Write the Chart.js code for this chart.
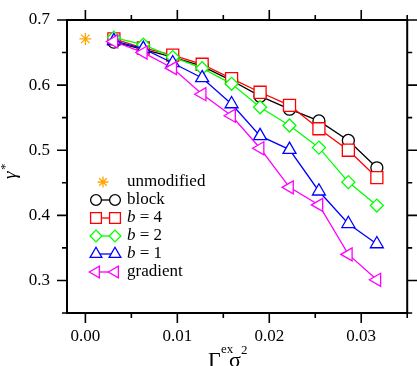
<!DOCTYPE html>
<html>
<head>
<meta charset="utf-8">
<script src="https://cdn.jsdelivr.net/npm/chart.js@4.4.1/dist/chart.umd.min.js"></script>
<style>
  html, body { margin: 0; padding: 0; background: #fff; }
  canvas { display: block; }
</style>
</head>
<body>
<canvas id="chart" width="417" height="366"></canvas>
<script>
// Γ^ex σ^2 values (same for every modified run)
const X_VALUES = [0.0031, 0.0063, 0.0095, 0.0127, 0.0159, 0.0190, 0.0222, 0.0254, 0.0286, 0.0317];

const UNMODIFIED_X = [0.0];
const UNMODIFIED_Y = [0.671];
const BLOCK = [0.666, 0.655, 0.643, 0.629, 0.607, 0.583, 0.563, 0.545, 0.515, 0.473];
const B4 = [0.671, 0.657, 0.646, 0.632, 0.610, 0.589, 0.569, 0.533, 0.500, 0.458];
const B2 = [0.673, 0.662, 0.643, 0.626, 0.602, 0.566, 0.538, 0.504, 0.451, 0.415];
const B1 = [0.668, 0.656, 0.634, 0.611, 0.571, 0.522, 0.501, 0.437, 0.387, 0.356];
const GRADIENT = [0.667, 0.650, 0.626, 0.586, 0.553, 0.503, 0.443, 0.416, 0.340, 0.301];

const X_TICKS = [0.0, 0.01, 0.02, 0.03];
const X_MINOR = [0.005, 0.015, 0.025, 0.035];
const Y_TICKS = [0.3, 0.4, 0.5, 0.6, 0.7];
const Y_MINOR = [0.25, 0.35, 0.45, 0.55, 0.65];

const SERIF = '"Liberation Serif", "Times New Roman", serif';

function pts(xs, ys) {
  return ys.map((y, i) => ({ x: xs[i], y: y }));
}

const SERIES = [
  { label: "unmodified", data: pts(UNMODIFIED_X, UNMODIFIED_Y), color: "#ffa500", style: "star", r: 6, rot: 0, line: false },
  { label: "block", data: pts(X_VALUES, BLOCK), color: "#000000", style: "circle", r: 6, rot: 0, line: true },
  { label: "b = 4", data: pts(X_VALUES, B4), color: "#ff0000", style: "rect", r: 8.5, rot: 0, line: true },
  { label: "b = 2", data: pts(X_VALUES, B2), color: "#00ff00", style: "rectRot", r: 6.5, rot: 0, line: true },
  { label: "b = 1", data: pts(X_VALUES, B1), color: "#0000ff", style: "triangle", r: 7.5, rot: 0, line: true },
  { label: "gradient", data: pts(X_VALUES, GRADIENT), color: "#ff00ff", style: "triangle", r: 7.5, rot: -90, line: true },
];

// frame, minor/mirrored ticks, axis titles and the legend
const decor = {
  id: "decor",
  afterDraw(chart) {
    const ctx = chart.ctx;
    const a = chart.chartArea;
    const xs = chart.scales.x, ys = chart.scales.y;
    ctx.save();
    ctx.strokeStyle = "#000";
    ctx.lineWidth = 1.6;
    ctx.beginPath();
    X_TICKS.forEach((v) => {
      const px = xs.getPixelForValue(v);
      ctx.moveTo(px, a.bottom); ctx.lineTo(px, a.bottom + 10);
      ctx.moveTo(px, a.top); ctx.lineTo(px, a.top - 10);
    });
    X_MINOR.forEach((v) => {
      const px = xs.getPixelForValue(v);
      ctx.moveTo(px, a.bottom); ctx.lineTo(px, a.bottom + 5);
      ctx.moveTo(px, a.top); ctx.lineTo(px, a.top - 5);
    });
    Y_TICKS.forEach((v) => {
      const py = ys.getPixelForValue(v);
      ctx.moveTo(a.left, py); ctx.lineTo(a.left - 10, py);
      ctx.moveTo(a.right, py); ctx.lineTo(a.right + 10, py);
    });
    Y_MINOR.forEach((v) => {
      const py = ys.getPixelForValue(v);
      ctx.moveTo(a.left, py); ctx.lineTo(a.left - 5, py);
      ctx.moveTo(a.right, py); ctx.lineTo(a.right + 5, py);
    });
    ctx.stroke();
    ctx.lineWidth = 2;
    ctx.strokeRect(a.left, a.top, a.right - a.left, a.bottom - a.top);

    // x title: Γ^ex σ^2
    ctx.fillStyle = "#000";
    ctx.textBaseline = "alphabetic";
    ctx.textAlign = "left";
    ctx.font = "22px " + SERIF;
    ctx.fillText("Γ", 208, 367);
    ctx.font = "13px " + SERIF;
    ctx.fillText("ex", 221, 353);
    ctx.font = "22px " + SERIF;
    ctx.fillText("σ", 229, 367);
    ctx.font = "13px " + SERIF;
    ctx.fillText("2", 241, 354);

    // y title: γ*
    ctx.save();
    ctx.translate(16, 175);
    ctx.rotate(-Math.PI / 2);
    ctx.font = "italic 19px " + SERIF;
    ctx.fillText("γ", -4, 0);
    ctx.font = "13px " + SERIF;
    ctx.fillText("*", 5, -7);
    ctx.restore();

    // legend
    const rowY = [182, 200, 218, 236, 254, 272];
    SERIES.forEach((s, i) => {
      const y = rowY[i];
      const opts = { pointStyle: s.style, radius: s.r * 0.9, rotation: s.rot, borderWidth: 1.3 };
      ctx.strokeStyle = s.color;
      ctx.fillStyle = "#fff";
      ctx.lineWidth = 1.3;
      if (s.line) {
        ctx.beginPath();
        ctx.moveTo(96, y); ctx.lineTo(115, y);
        ctx.stroke();
        Chart.helpers.drawPoint(ctx, opts, 96, y);
        Chart.helpers.drawPoint(ctx, opts, 115, y);
      } else {
        Chart.helpers.drawPoint(ctx, opts, 103, y);
      }
      ctx.fillStyle = "#000";
      ctx.textBaseline = "middle";
      let tx = 127;
      if (s.label.startsWith("b = ")) {
        ctx.font = "italic 17px " + SERIF;
        ctx.fillText("b", tx, y);
        tx += ctx.measureText("b").width;
        ctx.font = "17px " + SERIF;
        ctx.fillText(" = " + s.label.slice(4), tx, y);
      } else {
        ctx.font = "17px " + SERIF;
        ctx.fillText(s.label, tx, y);
      }
    });
    ctx.restore();
  },
};

new Chart(document.getElementById("chart"), {
  type: "scatter",
  data: {
    datasets: SERIES.map((s, i) => ({
      label: s.label,
      data: s.data,
      showLine: s.line,
      borderColor: s.color,
      backgroundColor: "#ffffff",
      borderWidth: 1.3,
      pointStyle: s.style,
      pointRadius: s.r,
      pointRotation: s.rot,
      pointBorderWidth: 1.3,
      pointBorderColor: s.color,
      pointBackgroundColor: "#ffffff",
      order: SERIES.length - i,
    })),
  },
  options: {
    responsive: false,
    animation: false,
    devicePixelRatio: 1,
    layout: { padding: { top: 20, right: 7, left: 0, bottom: 0 } },
    plugins: { legend: { display: false }, tooltip: { enabled: false } },
    scales: {
      x: {
        type: "linear",
        min: -0.002,
        max: 0.035,
        afterBuildTicks: (s) => { s.ticks = X_TICKS.map((v) => ({ value: v })); },
        afterFit: (s) => { s.height = 53; },
        ticks: {
          callback: (v) => Number(v).toFixed(2),
          font: { family: SERIF, size: 17 },
          color: "#000",
          padding: 3,
          maxRotation: 0,
          autoSkip: false,
        },
        grid: { display: false, drawTicks: true, tickLength: 10 },
        border: { display: false },
      },
      y: {
        min: 0.25,
        max: 0.7,
        afterBuildTicks: (s) => { s.ticks = Y_TICKS.map((v) => ({ value: v })); },
        afterFit: (s) => { s.width = 67; },
        ticks: {
          callback: (v) => Number(v).toFixed(1),
          font: { family: SERIF, size: 17 },
          color: "#000",
          padding: 7,
          autoSkip: false,
        },
        grid: { display: false, drawTicks: true, tickLength: 10 },
        border: { display: false },
      },
    },
  },
  plugins: [decor],
});
</script>
</body>
</html>
